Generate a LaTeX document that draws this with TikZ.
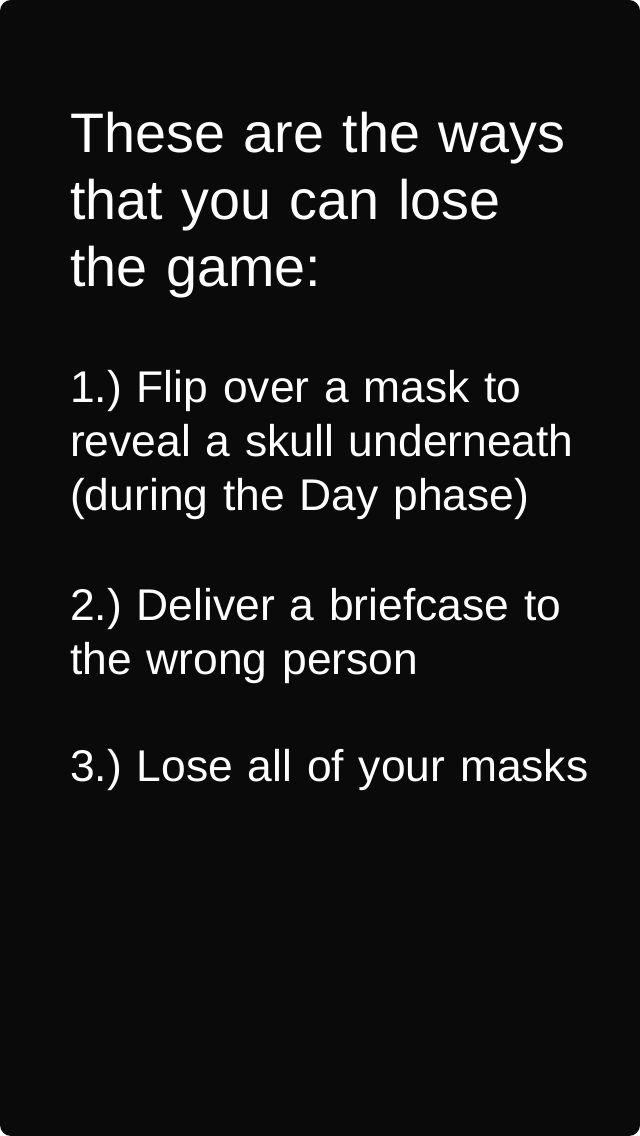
\documentclass[tikz,border=0pt]{standalone}
\usepackage{fontspec}
\setmainfont{Liberation Sans}
\frenchspacing
\definecolor{cardblack}{HTML}{0A0A0A}
\tikzset{
    cardtext/.style={align=left,anchor=base west,text width=560pt,inner sep=0pt,text=white}
}
\begin{document}
\begin{tikzpicture}[x=1pt,y=1pt]
        % Draw page and card background
        \useasboundingbox (0,0) rectangle (640,1136);
        \fill[white] (0,0) rectangle (640,1136);
        \fill[cardblack,rounded corners=11pt] (0,0) rectangle (640,1136);
        % Draw title
        \node[cardtext,font=\fontsize{55.7pt}{67pt}\selectfont] (title) at (70,983) {
            These are the ways\\that you can lose\\the game:
        };
        % Draw the three ways
        \node[cardtext,font=\fontsize{44.4pt}{54pt}\selectfont] (wayone) at (70,733) {
            1.) Flip over a mask to\\reveal a skull underneath\\(during the Day phase)
        };
        \node[cardtext,font=\fontsize{44.4pt}{54pt}\selectfont] (waytwo) at (70,515) {
            2.) Deliver a briefcase to\\the wrong person
        };
        \node[cardtext,font=\fontsize{44.4pt}{54pt}\selectfont] (waythree) at (70,354) {
            3.) Lose all of your masks
        };
    \end{tikzpicture}
\end{document}
